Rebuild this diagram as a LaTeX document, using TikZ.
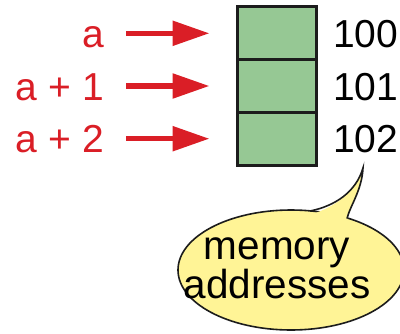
\documentclass[tikz,border=0pt]{standalone}
\usepackage{fontspec}
\setmainfont{Liberation Sans}
\usetikzlibrary{arrows.meta}
\definecolor{ptrred}{RGB}{218,30,38}
\definecolor{cellgreen}{RGB}{150,200,148}
\definecolor{bubbleyellow}{RGB}{255,244,150}
\definecolor{inkdark}{RGB}{28,28,28}
\tikzset{
  cell/.style={draw=inkdark, line width=3pt, fill=cellgreen, minimum width=79pt, minimum height=52.7pt, inner sep=0pt},
  ptrlabel/.style={text=ptrred, font=\fontsize{39}{40}\selectfont, inner sep=0pt, anchor=base east},
  addrlabel/.style={text=black, font=\fontsize{39}{40}\selectfont, inner sep=0pt, anchor=base west},
  ptrarrow/.style={draw=ptrred, line width=5.5pt, -{Triangle[length=37pt,width=24pt]}, shorten <=22pt, shorten >=26pt},
  bubble/.style={draw=inkdark, line width=1.6pt, fill=bubbleyellow}
}
\begin{document}
\begin{tikzpicture}[x=1pt, y=-1pt]
  \useasboundingbox (0,0) rectangle (400,333);

  % memory cells, stacked
  \node[cell] (c0) at (276.5,33.3) {};
  \node[cell] (c1) at (276.5,86) {};
  \node[cell] (c2) at (276.5,138.7) {};

  % pointer expressions
  \node[ptrlabel] (p0) at (104,47) {a};
  \node[ptrlabel] (p1) at (104,100) {a + 1};
  \node[ptrlabel] (p2) at (104,152) {a + 2};

  % addresses
  \node[addrlabel] (m0) at (333,47) {100};
  \node[addrlabel] (m1) at (333,100) {101};
  \node[addrlabel] (m2) at (333,152) {102};

  % arrows from expressions to cells
  \draw[ptrarrow] (p0.east |- c0.west) -- (c0.west);
  \draw[ptrarrow] (p1.east |- c1.west) -- (c1.west);
  \draw[ptrarrow] (p2.east |- c2.west) -- (c2.west);

  % speech bubble with tail pointing at the last address
  \coordinate (tip) at (363,168);
  \filldraw[bubble] (291,270) ellipse [x radius=113, y radius=60];
  \fill[bubbleyellow] (306,216) .. controls (335,208) and (356,192) .. (tip)
        .. controls (362,190) and (350,206) .. (346,224) -- cycle;
  \draw[draw=inkdark, line width=1.6pt] (310,211) .. controls (335,206) and (356,192) .. (tip)
        .. controls (362,190) and (350,206) .. (347,218.5);
  \node[font=\fontsize{40.5}{35}\selectfont, align=center, inner sep=0pt] (note) at (277,268) {memory\\addresses};
\end{tikzpicture}
\end{document}
